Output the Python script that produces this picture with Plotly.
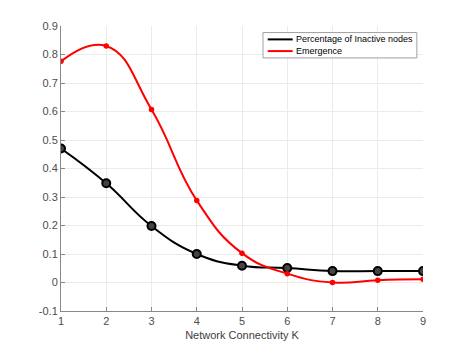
import plotly.graph_objects as go

# Data
k = [1, 2, 3, 4, 5, 6, 7, 8, 9]
inactive = [0.47, 0.348, 0.198, 0.100, 0.059, 0.051, 0.040, 0.040, 0.040]
emergence = [0.776, 0.830, 0.607, 0.288, 0.103, 0.031, 0.000, 0.008, 0.011]

series_names = ["Percentage of Inactive nodes", "Emergence"]
series_colors = ["black", "#ff0000"]

y_ticks = [-0.1, 0, 0.1, 0.2, 0.3, 0.4, 0.5, 0.6, 0.7, 0.8, 0.9]
y_labels = ["-0.1", "0", "0.1", "0.2", "0.3", "0.4", "0.5", "0.6", "0.7", "0.8", "0.9"]
x_ticks = [1, 2, 3, 4, 5, 6, 7, 8, 9]

base_font = "Liberation Sans, Arial, sans-serif"

fig = go.Figure()

# Smooth lines through the points
for ys, name, col in zip([inactive, emergence], series_names, series_colors):
    fig.add_trace(go.Scatter(
        x=k, y=ys, mode="lines", name=name, showlegend=False,
        line=dict(color=col, width=2, shape="spline", smoothing=1.3),
    ))

# Markers
fig.add_trace(go.Scatter(
    x=k, y=inactive, mode="markers", showlegend=False,
    marker=dict(symbol="circle", size=8, color="#444444",
                line=dict(color="black", width=2)),
))
fig.add_trace(go.Scatter(
    x=k, y=emergence, mode="markers", showlegend=False,
    marker=dict(symbol="circle", size=5.5, color="#ff0000"),
))

# Compact MATLAB-style legend box (plotly's own legend rows are too tall)
fig.add_shape(type="rect", xref="paper", yref="paper",
              x0=0.558, x1=0.983, y0=0.888, y1=0.977,
              line=dict(color="#a0a0a0", width=1), fillcolor="white", layer="above")
for i, (name, col) in enumerate(zip(series_names, series_colors)):
    yy = 0.953 - i * 0.041
    fig.add_shape(type="line", xref="paper", yref="paper",
                  x0=0.571, x1=0.640, y0=yy, y1=yy,
                  line=dict(color=col, width=2), layer="above")
    fig.add_annotation(xref="paper", yref="paper", x=0.645, y=yy,
                       xanchor="left", yanchor="middle", showarrow=False,
                       text=name, font=dict(family=base_font, size=9, color="black"))

# The page body adds an 8px offset, so margins are shifted to compensate
fig.update_layout(
    width=467, height=350,
    margin=dict(l=53, r=52, t=18, b=47, autoexpand=False),
    plot_bgcolor="white", paper_bgcolor="white",
    font=dict(family=base_font, size=11, color="#4d4d4d"),
    showlegend=False,
)

fig.update_xaxes(
    range=[1, 9], tickvals=x_ticks, ticks="inside", ticklen=4,
    tickcolor="#888888", showline=True, linecolor="#888888", linewidth=1,
    showgrid=True, gridcolor="#ebebeb", zeroline=False, automargin=False,
    title=dict(text="Network Connectivity K", standoff=5,
               font=dict(family=base_font, size=11, color="#404040")),
)
fig.update_yaxes(
    range=[-0.1, 0.9], tickvals=y_ticks, ticktext=y_labels, ticks="inside", ticklen=4,
    tickcolor="#888888", showline=True, linecolor="#888888", linewidth=1,
    showgrid=True, gridcolor="#ebebeb", zeroline=False, automargin=False,
)

fig.write_html("out.html")
